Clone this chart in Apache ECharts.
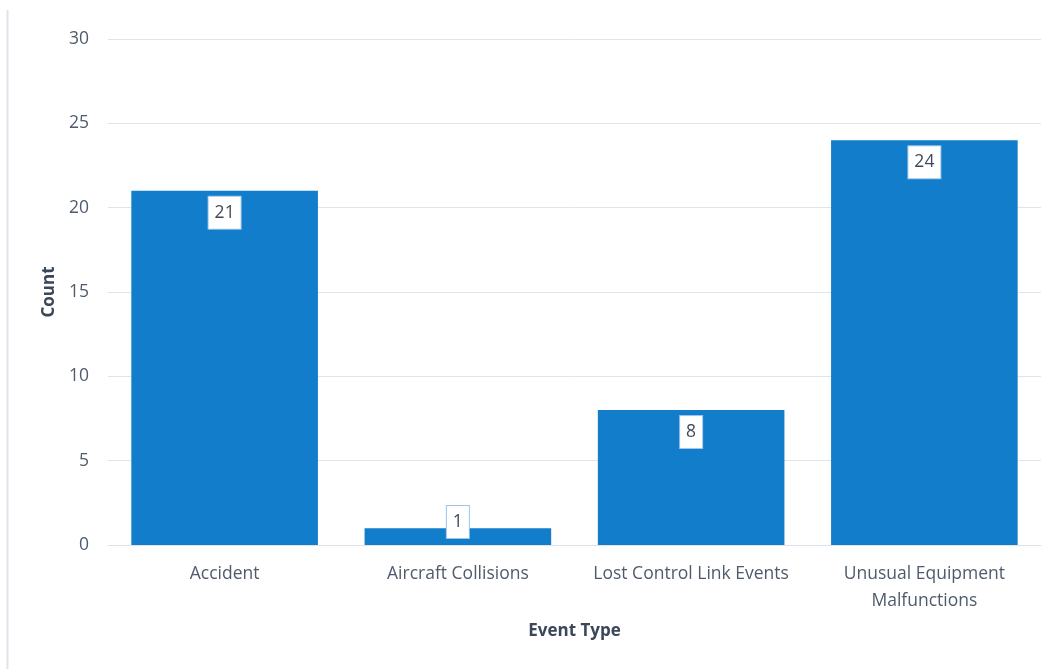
<!DOCTYPE html>
<html>
<head>
<meta charset="utf-8">
<script src="https://cdn.jsdelivr.net/npm/echarts@6/dist/echarts.min.js"></script>
<style>html,body{margin:0;padding:0;background:#fff}#c{width:1055px;height:669px}</style>
</head>
<body>
<div id="c"></div>
<script>
const categories = ['Accident', 'Aircraft Collisions', 'Lost Control Link Events', 'Unusual Equipment\nMalfunctions'];
const counts = [21, 1, 8, 24];
const yTicks = { min: 0, max: 30, interval: 5 };
const xTitle = 'Event Type';
const yTitle = 'Count';

const FONT = '"Open Sans", "Noto Sans", sans-serif';
const chart = echarts.init(document.getElementById('c'));
const data = counts.map(v => v < 3
  ? { value: v, label: { position: 'insideBottom', distance: 7 } }
  : { value: v });

chart.setOption({
  animation: false,
  grid: { left: 108, right: 14, top: 39, bottom: 124 },
  graphic: [{
    type: 'line', shape: { x1: 7.5, y1: 10, x2: 7.5, y2: 669 },
    style: { stroke: '#dfe4ea', lineWidth: 2 }
  }],
  xAxis: {
    type: 'category',
    data: categories,
    name: xTitle,
    nameLocation: 'middle',
    nameGap: 78,
    nameTextStyle: { fontFamily: FONT, fontSize: 17, fontWeight: 'bold', color: '#3b4759' },
    axisLine: { show: true, lineStyle: { color: '#dde3ea', width: 1 } },
    axisTick: { show: false },
    axisLabel: { fontFamily: FONT, fontSize: 17.5, color: '#4f5b6c', margin: 16, lineHeight: 27, interval: 0 }
  },
  yAxis: {
    type: 'value',
    min: yTicks.min, max: yTicks.max, interval: yTicks.interval,
    name: yTitle,
    nameLocation: 'middle',
    nameGap: 50,
    nameTextStyle: { fontFamily: FONT, fontSize: 17, fontWeight: 'bold', color: '#3b4759' },
    axisLine: { show: false },
    axisTick: { show: false },
    splitLine: { lineStyle: { color: '#e1e5eb', width: 1 } },
    axisLabel: { fontFamily: FONT, fontSize: 17.5, color: '#4f5b6c', margin: 19 }
  },
  series: [{
    type: 'bar',
    data: data,
    barCategoryGap: '20%',
    itemStyle: { color: '#127dca' },
    label: {
      show: true,
      position: 'insideTop',
      distance: 6,
      fontFamily: FONT,
      fontSize: 17.5,
      color: '#3f4a5a',
      backgroundColor: '#ffffff',
      borderColor: '#9cc3ea',
      borderWidth: 1,
      padding: [6, 6, 6, 6],
      lineHeight: 20
    }
  }]
});
</script>
</body>
</html>
